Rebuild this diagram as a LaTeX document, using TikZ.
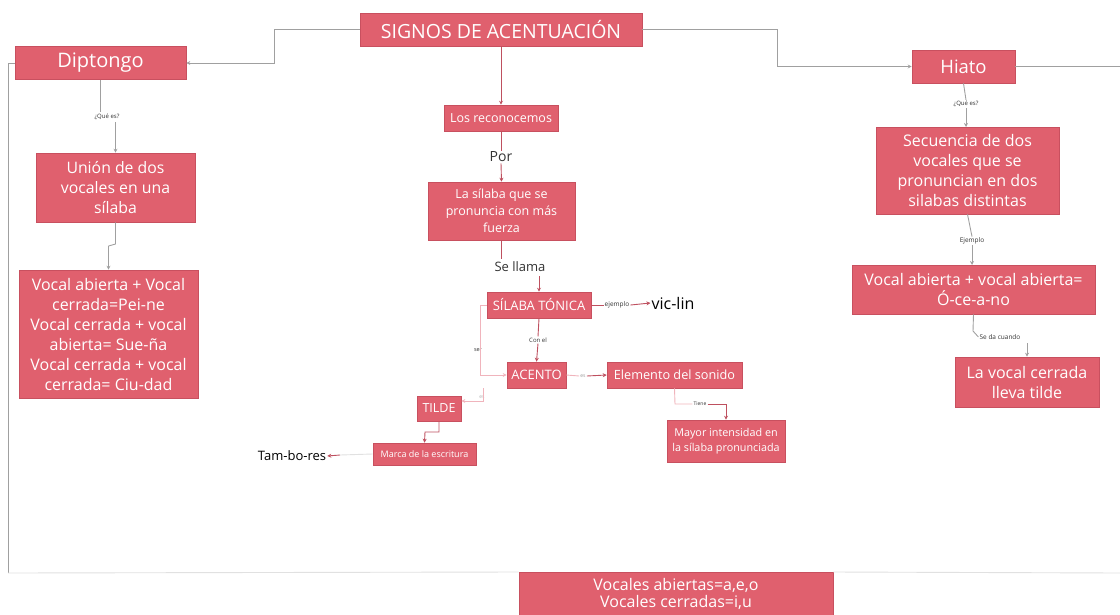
\documentclass[tikz,border=0pt]{standalone}
\usepackage{fontspec}
\setmainfont{Open Sans}
\usetikzlibrary{arrows.meta}
\definecolor{boxred}{RGB}{224,96,110}
\definecolor{boxedge}{RGB}{200,80,95}
\definecolor{lgrey}{RGB}{160,160,160}
\definecolor{fgrey}{RGB}{225,225,225}
\definecolor{lred}{RGB}{190,80,95}
\definecolor{pred}{RGB}{240,180,188}
\tikzset{
  box/.style={draw=boxedge, fill=boxred, text=white, align=center, inner sep=0pt, line width=0.6pt},
  lab/.style={inner sep=1pt, fill=white, text=black!80},
  glink/.style={draw=lgrey, line width=0.9pt},
  rlink/.style={draw=lred, line width=0.9pt},
  plink/.style={draw=pred, line width=0.9pt},
  flink/.style={draw=fgrey, line width=0.9pt},
  tip/.style={-{Stealth[length=4pt,width=4pt]}},
}
\begin{document}
\begin{tikzpicture}[x=1pt,y=-1pt]
\useasboundingbox (0,0) rectangle (1120,614);
% nodes
\node[box, minimum width=282pt, minimum height=33pt, font=\fontsize{19.5}{22}\selectfont] (title) at (501,29.5) {SIGNOS DE ACENTUACIÓN};
\node[box, minimum width=171pt, minimum height=33pt, font=\fontsize{20}{22}\selectfont] (dip) at (100.5,63) {Diptongo};
\node[box, minimum width=103pt, minimum height=33pt, font=\fontsize{18.5}{22}\selectfont] (hiato) at (963.5,66.5) {Hiato};
\node[box, minimum width=114pt, minimum height=26pt, font=\fontsize{12.5}{14}\selectfont] (recon) at (501,118) {Los reconocemos};
\node[box, minimum width=147pt, minimum height=58pt, font=\fontsize{12.5}{17}\selectfont] (silaba) at (501.5,211) {La sílaba que se\\pronuncia con más\\fuerza};
\node[box, minimum width=104pt, minimum height=26pt, font=\fontsize{13}{14}\selectfont] (tonica) at (539,305) {SÍLABA TÓNICA};
\node[box, minimum width=59pt, minimum height=26pt, font=\fontsize{13}{14}\selectfont] (acento) at (536.5,375) {ACENTO};
\node[box, minimum width=135pt, minimum height=26pt, font=\fontsize{12.7}{14}\selectfont] (elem) at (674.5,375) {Elemento del sonido};
\node[box, minimum width=118pt, minimum height=42pt, font=\fontsize{10.8}{15}\selectfont] (mayor) at (726,441) {Mayor intensidad en\\la sílaba pronunciada};
\node[box, minimum width=44pt, minimum height=25pt, font=\fontsize{12.5}{14}\selectfont] (tilde) at (439,408.5) {TILDE};
\node[box, minimum width=103pt, minimum height=22pt, font=\fontsize{9}{10}\selectfont] (marca) at (424.5,454) {Marca de la escritura};
\node[text=black, font=\fontsize{13}{15}\selectfont, inner sep=1pt] (tambo) at (292,456) {Tam-bo-res};
\node[text=black, font=\fontsize{16}{18}\selectfont, inner sep=1pt] (vic) at (673,303) {vic-lin};
\node[box, minimum width=159pt, minimum height=69pt, font=\fontsize{15.8}{20}\selectfont] (union) at (115.5,187.5) {Unión de dos\\vocales en una\\sílaba};
\node[box, minimum width=179pt, minimum height=128pt, font=\fontsize{16}{20}\selectfont] (vab) at (108.5,334) {Vocal abierta + Vocal\\cerrada=Pei-ne\\Vocal cerrada + vocal\\abierta= Sue-ña\\Vocal cerrada + vocal\\cerrada= Ciu-dad};
\node[box, minimum width=183pt, minimum height=87pt, font=\fontsize{16}{20}\selectfont] (secu) at (967.5,170.5) {Secuencia de dos\\vocales que se\\pronuncian en dos\\silabas distintas};
\node[box, minimum width=243pt, minimum height=49pt, font=\fontsize{16}{20}\selectfont] (ocea) at (973.5,289.5) {Vocal abierta + vocal abierta=\\Ó-ce-a-no};
\node[box, minimum width=144pt, minimum height=50pt, font=\fontsize{16}{20}\selectfont] (lavoc) at (1027,382) {La vocal cerrada\\lleva tilde};
\node[box, minimum width=314pt, minimum height=44pt, font=\fontsize{16}{17}\selectfont, anchor=north] (vocs) at (676,572) {Vocales abiertas=a,e,o\\Vocales cerradas=i,u};
% labels
\node[lab, font=\fontsize{14}{16}\selectfont] (lpor) at (501,157) {Por};
\node[lab, font=\fontsize{13}{15}\selectfont] (lsellama) at (520,267) {Se llama};
\node[lab, font=\fontsize{6}{7}\selectfont] (lqdip) at (107,117) {¿Qué es?};
\node[lab, font=\fontsize{6}{7}\selectfont] (lqhia) at (966,104) {¿Qué es?};
\node[lab, font=\fontsize{6.5}{8}\selectfont] (lejem) at (972,241) {Ejemplo};
\node[lab, font=\fontsize{6.5}{8}\selectfont] (lseda) at (1000,337) {Se da cuando};
\node[lab, font=\fontsize{6.5}{8}\selectfont] (lejemplo) at (617,305) {ejemplo};
\node[lab, font=\fontsize{6}{7}\selectfont] (lconel) at (538,340) {Con el};
\node[lab, font=\fontsize{5.5}{7}\selectfont] (lser) at (478,350) {ser};
\node[lab, font=\fontsize{5}{6}\selectfont, text=black!40] (les) at (583,376) {es};
\node[lab, font=\fontsize{5}{6}\selectfont] (ltiene) at (700,404) {Tiene};
\node[lab, font=\fontsize{5}{6}\selectfont, text=black!30] (lpuede) at (482,397) {es};
% connectors from title
\draw[glink, tip] (title.west) -- (274,29.5) -- (274,63) -- (dip.east);
\draw[glink, tip] (title.east) -- (777,29.5) -- (777,66.5) -- (hiato.west);
\draw[rlink, tip] (title.south) -- (recon.north);
% centre column
\draw[rlink] (recon.south) -- (lpor.north);
\draw[rlink, tip] (lpor.south) -- (silaba.north);
\draw[rlink] (silaba.south) -- (501.5,259);
\draw[rlink, tip] (539,276) -- (tonica.north);
\draw[rlink] (tonica.east) -- (lejemplo.west);
\draw[rlink, tip] (lejemplo.east) -- (vic.west);
\draw[rlink] (tonica.south) -- (lconel.north);
\draw[rlink, tip] (lconel.south) -- (acento.north);
\draw[plink, tip] (tonica.west) -- (480,305) -- (480,375) -- (acento.west);
\draw[plink] (acento.east) -- (les.west);
\draw[rlink, tip] (les.east) -- (elem.west);
\draw[plink] (elem.south) -- (675,404) -- (ltiene.west);
\draw[rlink, tip] (ltiene.east) -- (726,404) -- (mayor.north);
\coordinate (tbend) at (483,388);
\draw[plink, tip] (tbend) -- (483,401) -- (tilde.east |- 0,401);
\draw[rlink, tip] (tilde.south) -- (439,432) -- (425,432) -- (marca.north);
\draw[flink] (marca.west) -- (340,455);
\draw[rlink, tip] (340,455) -- (tambo.east);
% left column
\draw[glink] (dip.south) -- (100.5,112);
\draw[glink, tip] (115.5,122) -- (union.north);
\draw[glink] (union.south) -- (115.5,244) -- (108.5,246);
\draw[glink, tip] (108.5,246) -- (vab.north);
\draw[glink] (dip.west) -- (8,63) -- (8,573);
\draw[flink] (8,573) -- (vocs.north west);
% right column
\draw[glink] (hiato.south) -- (lqhia.north);
\draw[glink, tip] (lqhia.south) -- (966,127);
\draw[glink] (secu.south) -- (lejem.north);
\draw[glink, tip] (lejem.south) -- (972,265);
\draw[glink] (ocea.south) -- (973,331) -- (lseda.west);
\draw[glink, tip] (1027,343) -- (lavoc.north);
\draw[glink] (hiato.east) -- (1120,66.5);
\draw[flink] (vocs.north east) -- (1120,573);
\end{tikzpicture}
\end{document}
